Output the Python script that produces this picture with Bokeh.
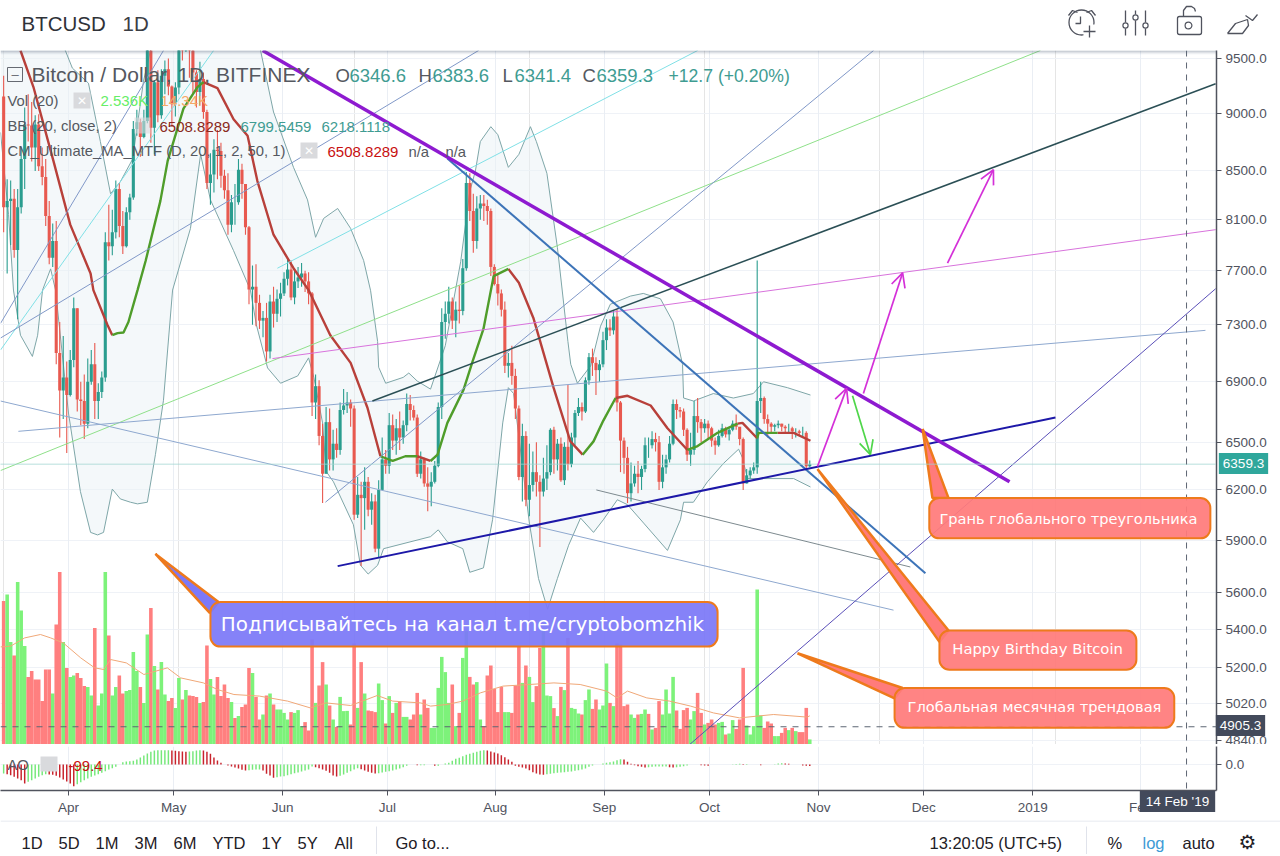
from bokeh.plotting import figure
from bokeh.layouts import column
from bokeh.embed import file_html
from bokeh.resources import INLINE
from bokeh.models import (ColumnDataSource, Range1d, LinearScale, FixedTicker, Grid, Span, Label,
                          BoxAnnotation, Arrow, OpenHead, NumeralTickFormatter)

# ---------------- data ----------------
tick_days = [18.5, 48.5, 79.6, 109.5, 140.3, 171.4, 201.4, 232.5, 262.5, 293.6, 324.4]
tick_names = ["Apr", "May", "Jun", "Jul", "Aug", "Sep", "Oct", "Nov", "Dec", "2019", "Feb"]
price_ticks = [9500, 9000, 8500, 8100, 7700, 7300, 6900, 6500, 6200, 5900, 5600, 5400, 5200, 5020, 4840]

opens = [9150,8200,8250,8270,7860,8200,8600,8900,8890,8700,8900,8540,8450,8130,7800,7930,7100,6840,
 6930,6810,7050,7420,6780,6770,6620,6900,7020,6770,6830,6930,7920,7890,8000,8350,8050,7890,8160,8280,8860,8920,8790,8930,9650,8870,9280,8980,9340,9400,
 9240,9080,9230,9740,9700,9860,9620,9370,9190,9310,9010,8400,8470,8680,8670,8460,8340,8060,8240,8240,8510,8390,8040,7560,7580,7460,7330,7350,7110,7470,7380,
 7490,7530,7640,7710,7500,7620,7650,7680,7620,7530,6760,6870,6540,6300,6630,6390,6490,6450,6710,6740,6760,6720,6050,6170,6150,6250,6080,6130,5850,6200,
 6390,6350,6610,6510,6590,6530,6610,6750,6710,6660,6300,6390,6240,6220,6250,6350,6730,7320,7380,7470,7330,7410,7400,7720,8400,8170,7930,8190,8230,8210,8170,
 7730,7600,7530,7410,7010,7030,6940,6720,6280,6540,6140,6230,6310,6250,6190,6270,6310,6580,6390,6490,6260,6470,6360,6530,6690,6730,6700,6910,7070,7030,6980,
 7020,7190,7280,7260,7360,6760,6510,6400,6180,6240,6300,6280,6330,6480,6480,6520,6500,6250,6340,6390,6490,6750,6710,6700,6580,6420,6450,6670,6630,6590,
 6620,6590,6510,6480,6540,6590,6550,6580,6620,6600,6520,6240,6290,6320,6340,6770,6790,6650,6620,6600,6610,6620,6600,6590,6590,6570,6570,6560,6560,6346.6]
closes = [8200,8250,8270,7860,8200,8600,8900,8890,8700,8900,8540,8450,8130,7800,7930,7100,6840,6930,
 6810,7050,7420,6780,6770,6620,6900,7020,6770,6830,6930,7920,7890,8000,8350,8050,7890,8160,8280,8860,8920,8790,8930,9650,8870,9280,8980,9340,9400,9240,
 9080,9230,9740,9700,9860,9620,9370,9190,9310,9010,8400,8470,8680,8670,8460,8340,8060,8240,8240,8510,8390,8040,7560,7580,7460,7330,7350,7110,7470,7380,7490,
 7530,7640,7710,7500,7620,7650,7680,7620,7530,6760,6870,6540,6300,6630,6390,6490,6450,6710,6740,6760,6720,6050,6170,6150,6250,6080,6130,5850,6200,6390,
 6350,6610,6510,6590,6530,6610,6750,6710,6660,6300,6390,6240,6220,6250,6350,6730,7320,7380,7470,7330,7410,7400,7720,8400,8170,7930,8190,8230,8210,8170,7730,
 7600,7530,7410,7010,7030,6940,6720,6280,6540,6140,6230,6310,6250,6190,6270,6310,6580,6390,6490,6260,6470,6360,6530,6690,6730,6700,6910,7070,7030,6980,7020,
 7190,7280,7260,7360,6760,6510,6400,6180,6240,6300,6280,6330,6480,6480,6520,6500,6250,6340,6390,6490,6750,6710,6700,6580,6420,6450,6670,6630,6590,6620,
 6590,6510,6480,6540,6590,6550,6580,6620,6600,6520,6240,6290,6320,6340,6770,6790,6650,6620,6600,6610,6620,6600,6590,6590,6570,6570,6560,6560,6346.6,6359.3]
highs = [9340,8430,8420,8350,8350,8700,9050,9170,9100,8980,8990,8700,8600,8250,8070,8090,7320,7220,
 7040,7120,7500,7420,6900,6950,7060,7120,7170,6890,6970,8000,8220,8180,8420,8400,8170,8200,8310,8930,9030,8950,9030,9760,9760,9300,9390,9400,9480,9500,
 9250,9280,9790,9790,9980,9950,9670,9390,9470,9370,9030,8650,8770,8850,8740,8510,8480,8300,8390,8600,8560,8390,8050,7740,7750,7520,7400,7460,7520,7580,7560,
 7610,7690,7790,7780,7700,7730,7760,7700,7690,7540,6950,6910,6620,6730,6720,6580,6590,6760,6850,6830,6780,6740,6280,6250,6340,6280,6180,6170,6260,6530,
 6450,6690,6680,6650,6700,6640,6820,6810,6740,6680,6440,6400,6340,6310,6380,6760,7420,7470,7580,7500,7470,7590,7790,8490,8480,8310,8290,8300,8300,8260,8190,
 7750,7680,7560,7470,7100,7150,6990,6740,6620,6570,6490,6440,6500,6290,6400,6480,6590,6600,6520,6530,6500,6880,6560,6710,6790,6760,6930,7100,7130,7070,7050,
 7250,7340,7340,7400,7410,6770,6530,6470,6370,6350,6380,6350,6530,6530,6570,6560,6540,6420,6420,6540,6780,6780,6730,6720,6590,6560,6770,6790,6650,6650,
 6640,6600,6530,6580,6620,6600,6590,6640,6680,6530,6530,6330,6340,6370,7780,6900,6800,6680,6630,6620,6640,6620,6610,6620,6600,6590,6580,6600,6570,6383.6]
lows = [8000,7680,7900,7800,7340,8150,8350,8750,8580,8500,8500,8380,8050,7750,7730,7020,6530,6650,
 6430,6800,7000,6700,6610,6520,6590,6880,6650,6650,6790,6900,7780,7820,7950,7960,7830,7880,8100,8260,8800,8620,8780,8910,8740,8640,8920,8950,9170,9160,
 8880,8970,9170,9480,9560,9320,9180,9050,9070,8950,8350,8220,8320,8430,8360,8270,7980,8000,8060,8220,8270,7980,7450,7300,7290,7270,7210,7040,7060,7280,7320,
 7360,7510,7590,7480,7450,7570,7580,7540,7450,6670,6650,6480,6120,6300,6320,6320,6400,6420,6680,6690,6600,6020,6030,5750,5960,6040,5990,5830,5800,6200,
 6300,6300,6450,6420,6450,6490,6570,6640,6640,6280,6270,6220,6070,6100,6240,6340,6650,7200,7310,7270,7210,7310,7370,7700,8090,7840,7870,8100,8090,8060,7660,
 7590,7440,7360,6960,6930,6880,6650,6260,6130,6100,6040,6190,6160,5860,6160,6200,6290,6300,6320,6250,6230,6320,6340,6480,6670,6640,6690,6880,6940,6810,6900,
 7000,7120,7220,7230,6700,6310,6300,6120,6130,6220,6180,6200,6310,6400,6460,6440,6200,6210,6300,6370,6480,6650,6660,6540,6380,6350,6420,6560,6500,6560,
 6520,6470,6420,6470,6530,6530,6510,6570,6580,6480,6200,6240,6270,6300,6300,6690,6620,6530,6560,6570,6590,6570,6560,6560,6520,6530,6540,6530,6320,6341.4]

volumes = [71.7,75,51.2,44.5,81.2,67,49.2,33.8,36.7,32.5,32.5,21.7,37.5,37.5,25.5,60,86.2,51.2,38.2,33.8,
 34.5,35.8,33.3,29.2,28.8,24.5,58.2,19.5,25.5,86.2,54.5,24.5,28.8,34.5,25.5,26.8,27.2,46.2,36.7,28.8,
 20.8,55,68.3,39.2,27.5,41.2,25,21.7,23.3,18.3,33.3,22.5,27.2,24.5,24.2,23.7,20.8,21.2,49.5,32.8,
 25,33.8,24.2,30,23.3,21.2,13.3,14.2,18.8,20,38.3,35.8,23.8,12.5,15,24.5,25.5,20,17.5,17.5,
 15.8,12.5,16.2,15.8,17.2,9.2,11.2,7,52.5,20.8,29.5,41.2,30,19.5,12.5,8.8,23.8,16.7,16.8,10,
 50.5,18.3,41.2,25.5,17,16.7,16.2,30.5,22.2,10.5,24.2,15.8,20.8,21.5,13.8,13.8,12.5,15,25.8,15,
 22.5,18.3,8.3,8.3,28.3,43.8,36.2,20.8,30,9.2,15.8,43.3,56.7,33.8,30,31.2,12.5,9.2,34.5,39.5,
 27.8,16.2,28.8,16.2,16.2,15.8,29.5,48.8,30.8,39.5,33.8,21.2,29.2,48.3,56.7,24.5,24.2,18.2,14.2,28.8,
 27.2,53.3,18.3,17.8,15.5,15,22.2,27.5,17.8,22.5,17.5,19.5,40.5,20.8,19.2,50.5,50,19.2,20,15,
 13.3,15,15.3,17.5,15.3,7.5,8.3,21.7,15,27.5,15.5,33.8,17,7.8,17.2,18.3,12.5,16.7,25.8,15.8,
 10,10.8,12.5,10,10.8,11.3,5,5.5,12.2,7.8,12.5,38.3,9.5,5,9.2,77.5,14.5,8.3,11.5,10.5,
 4.2,4.2,5.8,8.3,7.2,8.3,6.7,6.2,6.2,18.3,2.536]
volume_sides = ("RGGRGGGRRR" "RRRRGRRGRG" "GRRRGGRGGG" "RGGRRGGGGR" "GGRGRGGRRG" "GRGRRRGRRG" "GRRRRGRGRR" "RGRRGRGRGG"
 "GGRGGGRRRG" "RRGRGRGGGR" "RGRGRRRGGR" "GRGRGGRRRG" "RRGGGGGGRG" "RGGRRGGRRR" "RRRGGRRRGR" "GGRRGGGRGR"
 "GRGGGRGGRR" "GGGRGRRRRG" "GRGGRGRRGG" "GGRRRRGGRR" "GRRRGGRGGR" "RRGGGGGRRR" "GGRRGRGRRRG")
vol_ma_days = [-0.9,2,6,10.5,13.4,17,22,26,28.6,30.5,35,40,46.7,50.5,57,61,65.7,73,81,87.5,92,99,106.6,111,119,121.8,126.5,131,136,142.5,150,157,164.5,172,175,178,183.5,190,196,202.5,210,215,219.7,229.3,230]
vol_ma = [48.8,49.2,53.3,55,53.3,50.8,43.3,38.3,37.5,42.5,40.8,35,38.3,33.3,30.8,27.5,25,24.2,21.7,18.3,20.8,19.5,24.5,21.7,20.8,19.2,20,21.7,25.8,29.2,30,30.8,30,26.7,23.3,26.7,23.3,21.7,19.2,15.8,13.3,14.2,15,13.7,14.34]

ao_values = [-594,-638,-704,-814,-924,-1034,-1254,-1144,-1034,-924,-814,-704,-638,-660,-680,-748,-858,-990,-1122,-1254,-1430,
 -1298,-1166,-1034,-924,-814,-726,-638,-550,-440,-330,-242,-154,0,154,198,220,242,330,462,594,726,836,924,946,946,946,
 946,924,902,880,858,836,858,880,924,946,924,836,704,462,264,110,0,-66,-132,-198,-264,-352,-396,-374,-352,-330,-330,-396,-616,-726,-880,
 -836,-792,-770,-704,-638,-572,-528,-462,-396,-330,-132,-176,-242,-330,-418,-550,-726,-792,-748,-660,-550,-440,-330,-242,-308,-396,-484,-550,-594,
 -572,-528,-484,-440,-396,-330,-264,-176,-88,0,0,-44,-44,-44,0,0,-88,-88,0,66,110,242,374,440,550,638,704,770,836,902,946,
 924,858,792,726,616,484,330,176,-88,-154,-198,-264,-374,-506,-594,-660,-682,-638,-616,-572,-550,-528,-506,-484,-462,-418,-374,-330,-264,-154,-66,
 0,0,66,110,154,198,286,352,330,176,44,-44,-110,-154,-198,-176,-154,-132,-132,-132,-132,-176,-198,-176,-154,-110,-66,0,0,0,-44,-66,-88,
 0,0,0,0,0,0,22,33,44,33,33,0,0,0,-44,0,0,0,22,66,88,66,44,0,0,0,-66,-88,-99.4]

bb_upper_days = [-1,10,17.6,19.6,24.2,27.6,30.5,33.3,36.8,39.9,41.9,50,65,73.3,77,82.7,86.7,89,91.3,95.3,99,102.7,104.7,106.7,107,109,114,115.6,118,121.8,126,130.4,133,134.6,136,139,141,144,147,150.3,152,155,158,161,161.8,163.7,167.5,170.3,173.1,178.8,182.5,187.4,191,193.7,194,196.8,202.5,208.2,213.9,216.8,223.6,230.2]
bb_upper = [11000,10200,9575,9410,9270,8750,8310,8410,8600,9290,9575,11000,11000,9575,9010,8530,8260,7960,8110,8190,8030,7780,7550,7180,7000,6890,6930,6960,6905,6850,7150,7770,8330,8500,8750,8880,8810,8530,8640,8880,8750,8480,7880,7180,7020,6890,7010,7290,7450,7510,7530,7490,7320,7020,6790,6770,6820,6790,6820,6900,6860,6810]
bb_lower_days = [-0.9,1.4,2.8,4.8,8.2,9.7,11.1,13.4,14.8,18.5,21.9,24.8,26.8,28.5,31,33.3,36.2,38.2,41,43.3,45.6,48.2,53.3,56.2,59,65.6,70.4,72.1,75.3,79,83.9,87,88.5,91,92,94.1,99.8,101.8,104,106.7,108.4,121.8,124,126.6,131,133,136.9,139.5,142.4,144,145.5,150,152.6,155.2,158,161.2,164.6,168.3,171.1,175.1,178,182.6,189.4,193.1,194,196.8,200.8,205.4,209.7,210.8,212.2,225.4,230.2]
bb_lower = [8830,8140,7555,7225,7075,7225,7555,7715,7555,6690,6190,5945,5930,5945,6205,6145,6125,6115,6125,6420,6775,7555,8030,8640,8260,7855,7555,7300,6995,6890,6940,7065,6930,6625,6315,6250,5990,5755,5705,5755,5850,5920,5960,5890,5850,5715,5740,6020,6625,6860,6820,6000,5680,5510,5680,5870,6030,5945,6020,6140,6110,6000,5840,6020,6125,6125,6250,6365,6455,6400,6270,6270,6218]

ma_falling_days = [[4.8,8.5,14.2,19,24.8,25.6,29.6,31],[57,61,65.6,69.6,72.4,77,82.7,87,93.2,99,103.8,107.5],[118,121.8],[144,147,151.2,156.9,161.7,165.2],[174.6,178,184.6,189.4,195.1],[209.4,210.8,215],[220.8,225.4,230.2]]
ma_falling = [[9575,9235,8585,8060,7680,7555,7300,7225],[9280,9225,8945,8800,8415,7980,7720,7555,7225,7030,6725,6410],[6410,6380],[7715,7610,7345,6860,6505,6420],[6790,6805,6740,6590,6450],[6620,6625,6525],[6560,6560,6508.8]]
ma_rising_days = [[31,32.5,34.2,35.6,38.2,40.5,44.7,46.8,51.3,55.3,57],[107.5,111,114.6,118],[121.8,123.8,126.6,131.2,133.8,136.9,139.8,144],[165.2,168.3,171.1,174.6],[195.1,198,203.7,209.4],[215,215.4,220.8]]
ma_rising = [[7225,7240,7245,7320,7555,7775,8250,8585,9040,9235,9280],[6410,6380,6410,6410],[6380,6420,6625,6845,7040,7270,7660,7715],[6420,6505,6640,6790],[6450,6475,6560,6620],[6525,6560,6560]]

# trend lines: [day, day], [price, price], colour, width
trend_lines = [
 ([-0.9,295.8],[6320,9575],"#8fe08a",1),
 ([-0.9,59.9],[7120,9575],"#80e0e6",1),
 ([78.1,198],[7720,9575],"#80e0e6",1),
 ([-0.9,135.5],[7205,9575],"#8098c8",1),
 ([-0.9,45.6],[7310,9575],"#8098c8",1),
 ([91.8,248.2],[6125,9575],"#8098c8",1),
 ([-0.9,253.9],[6770,5505],"#8ea8cf",1),
 ([4.2,342.9],[6570,7260],"#8ea8cf",1),
 ([169.1,258.7],[6200,5745],"#7d8a8f",1),
 ([76.7,345.8],[7060,8020],"#d873dc",1),
 ([195.4,345.8],[4815,7565],"#5a4fb8",1),
 ([105.2,345.8],[6770,9265],"#2b4f55",1.5),
 ([126.6,263],[8605,5710],"#3d74b8",2),
 ([95.3,300.1],[5750,6660],"#1d18a8",2),
 ([73.9,287],[9575,6250],"#8e1ad0",3.5),
]
arrows = [(232.2,6345,240.5,6855,"#d430d8"),(245.3,6820,256.5,7685,"#d430d8"),(269.3,7760,282.4,8510,"#d430d8"),(242.2,6805,247.3,6420,"#4fd64a")]
callouts = [
 dict(box=(59,203.7,5550,5310),tail=([43.3,61.3,58.8],[5820,5550,5490]),fill="#7c78f8",text="Подписывайтесь на канал t.me/cryptobomzhik",at=(130.9,5428),size="19.9px"),
 dict(box=(264.1,344.3,6150,5910),tail=([262.2,265,269.6],[6585,6150,6150]),fill="#ff7b7b",text="Грань глобального треугольника",at=(303.8,6030),size="14.6px"),
 dict(box=(267,323.2,5395,5190),tail=([232.2,269.6,267],[6330,5395,5335]),fill="#ff7b7b",text="Happy Birthday Bitcoin",at=(295,5300),size="14.8px"),
 dict(box=(254.2,334,5097,4900),tail=([226.5,256.5,254.2],[5275,5097,5045]),fill="#ff7b7b",text="Глобальная месячная трендовая",at=(294.1,5005),size="14.6px"),
]
assert len(opens)==len(closes)==len(highs)==len(lows)==len(volumes)==len(volume_sides)==len(ao_values)==231

# ---------------- styles ----------------
UP, DOWN = "#2a9d8f", "#e8594f"
FONT = "Liberation Sans"
XR = (-0.9, 346.05)
day = list(range(len(closes)))

def lbl(fig, sx, sy, text, size, color, align="left", font=FONT, **kw):
    fig.add_layout(Label(x=sx, y=sy, x_units="screen", y_units="screen", text=text, text_font=font,
                         text_font_size=size, text_color=color, text_align=align, text_baseline="middle", **kw))

def sbox(fig, l, r, b, t, fill, alpha=1.0, line=None):
    fig.add_layout(BoxAnnotation(left=l, right=r, bottom=b, top=t, left_units="screen", right_units="screen",
                                 bottom_units="screen", top_units="screen", fill_color=fill, fill_alpha=alpha,
                                 line_color=line, line_alpha=1.0 if line else 0))

def tag(fig, side, cx, sy, text, fill, pad):
    fig.add_layout(Label(x=cx, y=sy, x_units="screen", y_units="screen", text=text, text_font=FONT,
                         text_font_size="13.5px", text_color="white", text_align="center", text_baseline="middle",
                         background_fill_color=fill, padding=pad), side)

# ---------------- header ----------------
head = figure(width=1280, height=50, x_range=(0,1280), y_range=(50,0), x_axis_location=None, y_axis_location=None,
              toolbar_location=None, output_backend="svg", min_border=0, outline_line_color=None)
head.frame_align = False
head.grid.visible = False
head.add_layout(Label(x=21, y=23, text="BTCUSD", text_font=FONT, text_font_size="20.5px", text_color="#2f3238", text_baseline="middle"))
head.add_layout(Label(x=122, y=23, text="1D", text_font=FONT, text_font_size="20.5px", text_color="#3a3d44", text_baseline="middle"))
IC = "#50535e"
head.circle(x=[1081],y=[22],radius=[12.5],radius_units="screen",fill_alpha=0,line_color=IC,line_width=1.3)
head.quad(left=[1083],right=[1097],top=[24],bottom=[38],fill_color="white",line_color=None)
head.multi_line(xs=[[1068,1072,1077],[1086,1091,1095],[1080,1080,1075],[1083,1095],[1089,1089],
                    [1125,1125],[1125,1125],[1135,1135],[1135,1135],[1145,1145],[1145,1145],
                    [1183,1183,1186,1191,1194,1195],[1227,1235,1247,1248,1242,1227],[1245,1252,1257]],
                ys=[[15,10,12],[12,10,15],[16,23,23],[31,31],[25,37],
                    [10,22],[28,35],[10,14],[20,35],[10,22],[28,35],
                    [16,10,6,6,8,11],[33,23,19,25,33,33],[15,20,14]],line_color=IC,line_width=1.3)
head.circle(x=[1125,1135,1145,1188],y=[25,17,25,25],radius=[2.6,2.6,2.6,3.4],radius_units="screen",fill_color="white",line_color=IC,line_width=1.2)
head.quad(left=[1177],right=[1201],top=[16],bottom=[34],fill_alpha=0,line_color=IC,line_width=1.3,border_radius=2)

# ---------------- main pane ----------------
main = figure(width=1280, height=694, frame_width=1216, frame_height=694, x_range=XR, y_range=(4820,9575), y_axis_type="log", y_axis_location="right",
              x_axis_location=None, toolbar_location=None, output_backend="svg", min_border=0, min_border_right=64,
              outline_line_color=None, background_fill_color="white")
main.frame_align = False
main.extra_y_ranges = {"vol": Range1d(0, 347)}
main.extra_y_scales = {"vol": LinearScale()}
ax = main.yaxis[0]
ax.ticker = FixedTicker(ticks=price_ticks)
ax.formatter = NumeralTickFormatter(format="0.0")
ax.axis_line_color = "#50535e"; ax.axis_line_width = 1.5
ax.major_tick_line_color = "#50535e"; ax.major_tick_out = 5; ax.major_tick_in = 0
ax.minor_tick_line_color = None
ax.major_label_text_font = FONT; ax.major_label_text_font_size = "13.5px"; ax.major_label_text_color = "#50535e"
ax.major_label_standoff = 4
main.ygrid.grid_line_color = "#eff2f7"
main.add_layout(Grid(dimension=0, ticker=FixedTicker(ticks=tick_days), grid_line_color="#eaeef4"))

# volume
vcol = ["#7df27a" if s == "G" else "#ff7f7f" for s in volume_sides]
main.vbar(x=day, width=1.02, bottom=0, top=volumes, fill_color=vcol, line_color=None, y_range_name="vol")
main.line(vol_ma_days, vol_ma, line_color="#f0a878", line_width=1, y_range_name="vol")

# last price
main.add_layout(Span(location=6359.3, dimension="width", line_color="#9fd4d0", line_width=1.5, line_dash="1 1"))

# Bollinger bands
main.patch(bb_upper_days + bb_lower_days[::-1], bb_upper + bb_lower[::-1], fill_color="#e9f1f6", fill_alpha=0.5, line_color=None)
main.line(bb_upper_days, bb_upper, line_color="#7ea6a8", line_width=1)
main.line(bb_lower_days, bb_lower, line_color="#7ea6a8", line_width=1)

# candles
ccol = [UP if c >= o else DOWN for o, c in zip(opens, closes)]
src = ColumnDataSource(dict(x=day, o=opens, c=closes, h=highs, l=lows, col=ccol))
main.segment("x", "l", "x", "h", line_color="col", line_width=1.1, source=src)
main.vbar("x", 0.88, "o", "c", fill_color="col", line_color=None, source=src)

# basis line
main.multi_line(ma_falling_days, ma_falling, line_color="#b8403a", line_width=2.4)
main.multi_line(ma_rising_days, ma_rising, line_color="#4f9d2a", line_width=2.4)

# drawings
for xs, ys, col, w in trend_lines:
    main.line(xs, ys, line_color=col, line_width=w)
for x0, y0, x1, y1, col in arrows:
    main.add_layout(Arrow(end=OpenHead(size=14, line_color=col, line_width=1.7), x_start=x0, y_start=y0, x_end=x1, y_end=y1,
                          line_color=col, line_width=1.7))
main.add_layout(Span(location=4905.3, dimension="width", line_color="#5d6673", line_width=1, line_dash="6 6"))
main.add_layout(Span(location=337.5, dimension="height", line_color="#5d6673", line_width=1, line_dash="6 6"))
for c in callouts:
    main.patch(c["tail"][0], c["tail"][1], fill_color=c["fill"], line_color="#ee7a1c", line_width=2.5)
    l, r, t, b = c["box"]
    main.add_layout(BoxAnnotation(left=l, right=r, top=t, bottom=b, fill_color=c["fill"], fill_alpha=0.93,
                                  line_color="#ee7a1c", line_width=2, line_alpha=1, border_radius=10))
    main.add_layout(Label(x=c["at"][0], y=c["at"][1], text=c["text"], text_font="DejaVu Sans", text_font_size=c["size"],
                          text_color="white", text_align="center", text_baseline="middle"))

# legend texts (frame bottom is 744 on the page)
Y = lambda y: 744 - y
sbox(main, 7, 22, Y(81), Y(67), "white", 0, "#666a72")
lbl(main, 11, Y(74), "–", "13px", "#666a72")
lbl(main, 31, Y(74), "Bitcoin / Dollar, 1D, BITFINEX", "21px", "#555860")
T = "#3f9c92"; G = "#555860"
for x, txt, col in [(335,"O",G),(349,"6346.6",T),(418,"H",G),(432,"6383.6",T),(502,"L",G),(514,"6341.4",T),(582,"C",G),(596,"6359.3",T),(668,"+12.7 (+0.20%)",T)]:
    lbl(main, x, Y(75), txt, "17.6px" if txt.startswith("+") else "18.5px", col)
lbl(main, 7, Y(100), "Vol (20)", "14.8px", G)
sbox(main, 73, 90, Y(108), Y(92), "#d9dadd")
lbl(main, 81.5, Y(100), "✕", "12px", "white", align="center", font="DejaVu Sans")
lbl(main, 100, Y(100), "2.536K", "15px", "#66ee66")
lbl(main, 160, Y(100), "14.34K", "15px", "#f5a866")
lbl(main, 7, Y(125), "BB (20, close, 2)", "14.8px", G)
sbox(main, 134, 150, Y(133), Y(117), "#d9dadd", 0.6)
lbl(main, 159, Y(126), "6508.8289", "15px", "#8a2a20")
lbl(main, 240, Y(126), "6799.5459", "15px", T)
lbl(main, 321, Y(126), "6218.1118", "15px", T)
lbl(main, 7, Y(150), "CM_Ultimate_MA_MTF (D, 20, 1, 2, 50, 1)", "14.8px", G)
sbox(main, 300, 317, Y(158), Y(142), "#d9dadd")
lbl(main, 308.5, Y(150), "✕", "12px", "white", align="center", font="DejaVu Sans")
lbl(main, 327, Y(151), "6508.8289", "15px", "#c81010")
lbl(main, 408, Y(151), "n/a", "14.8px", G)
lbl(main, 445, Y(151), "n/a", "14.8px", G)

# price tags live in the side panel beside the axis
tag(main, "right", -26, Y(463), "6359.3", "#2fa79c", (4, 6))
tag(main, "right", -78, Y(725), "4905.3", "#434a5b", (4, 6))

# shadow under the header
for k, a in enumerate([0.42, 0.26, 0.14, 0.06]):
    sbox(main, 0, 1216, Y(51 + k), Y(50 + k), "#5a6a80", a)

# ---------------- divider ----------------
divider = figure(width=1280, height=2, x_range=(0,1), y_range=(0,1), x_axis_location=None, y_axis_location=None,
                 toolbar_location=None, output_backend="svg", min_border=0, outline_line_color=None,
                 background_fill_color="#50535e", border_fill_color="#50535e")
divider.frame_align = False
divider.grid.visible = False

# ---------------- AO pane with date axis ----------------
ao = figure(width=1280, height=76, frame_width=1216, frame_height=44, x_range=XR, y_range=(-1716, 1188), y_axis_location="right",
            toolbar_location=None, output_backend="svg", min_border=0, min_border_right=64, min_border_bottom=32,
            outline_line_color=None)
ao.frame_align = False
acol = ["#76e87a" if (i == 0 or v >= ao_values[i-1]) else "#c8232c" for i, v in enumerate(ao_values)]
ao.vbar(x=day, width=0.42, bottom=0, top=ao_values, fill_color=acol, line_color=None)
ao.ygrid.grid_line_color = "#eff2f7"
ao.yaxis[0].ticker = FixedTicker(ticks=[0])
ao.yaxis[0].formatter = NumeralTickFormatter(format="0.0")
xa = ao.xaxis[0]
xa.ticker = FixedTicker(ticks=tick_days)
xa.major_label_overrides = {t: n for t, n in zip(tick_days, tick_names)}
ao.xgrid.grid_line_color = "#eaeef4"
for a in (ao.yaxis[0], xa):
    a.axis_line_color = "#50535e"; a.axis_line_width = 1.5
    a.major_tick_line_color = "#50535e"; a.major_tick_out = 5; a.major_tick_in = 0
    a.minor_tick_line_color = None
    a.major_label_text_font = FONT; a.major_label_text_font_size = "13.5px"; a.major_label_text_color = "#50535e"
    a.major_label_standoff = 4
ao.add_layout(Span(location=337.5, dimension="height", line_color="#5d6673", line_width=1, line_dash="6 6"))
Z = lambda y: 790 - y
lbl(ao, 7, Z(764), "AO", "14.8px", G)
sbox(ao, 40, 57, Z(771), Z(756), "#d9dadd")
lbl(ao, 68, Z(765), "-99.4", "15px", "#c81010")
tag(ao, "below", 1177, 37, "14 Feb '19", "#434a5b", (6, 3))

# ---------------- footer ----------------
foot = figure(width=1280, height=34, x_range=(0,1280), y_range=(856,822), x_axis_location=None, y_axis_location=None,
              toolbar_location=None, output_backend="svg", min_border=0, outline_line_color=None, margin=(-18, 0, 0, 0))
foot.frame_align = False
foot.grid.visible = False
foot.line([0,1280],[822.5,822.5],line_color="#e0e3eb",line_width=1)
foot.multi_line([[376,376],[1086,1086]],[[828,856],[828,856]],line_color="#e0e3eb",line_width=1)
for x, t, col in [(21,"1D","#1e2026"),(58,"5D","#1e2026"),(95,"1M","#1e2026"),(134,"3M","#1e2026"),(173,"6M","#1e2026"),(212,"YTD","#1e2026"),
                  (261,"1Y","#1e2026"),(297,"5Y","#1e2026"),(334,"All","#1e2026"),(395,"Go to...","#1e2026"),(929,"13:20:05 (UTC+5)","#1e2026"),
                  (1107,"%","#1e2026"),(1142,"log","#3d9bd6"),(1182,"auto","#1e2026")]:
    foot.add_layout(Label(x=x, y=844, text=t, text_font=FONT, text_font_size="16.5px", text_color=col, text_baseline="middle"))
foot.add_layout(Label(x=1247, y=843, text="⚙", text_font="DejaVu Sans", text_font_size="20px", text_color="#1e2026", text_align="center", text_baseline="middle"))

page = column(head, main, divider, ao, foot, spacing=0)
open("out.html", "w").write(file_html(page, INLINE))
